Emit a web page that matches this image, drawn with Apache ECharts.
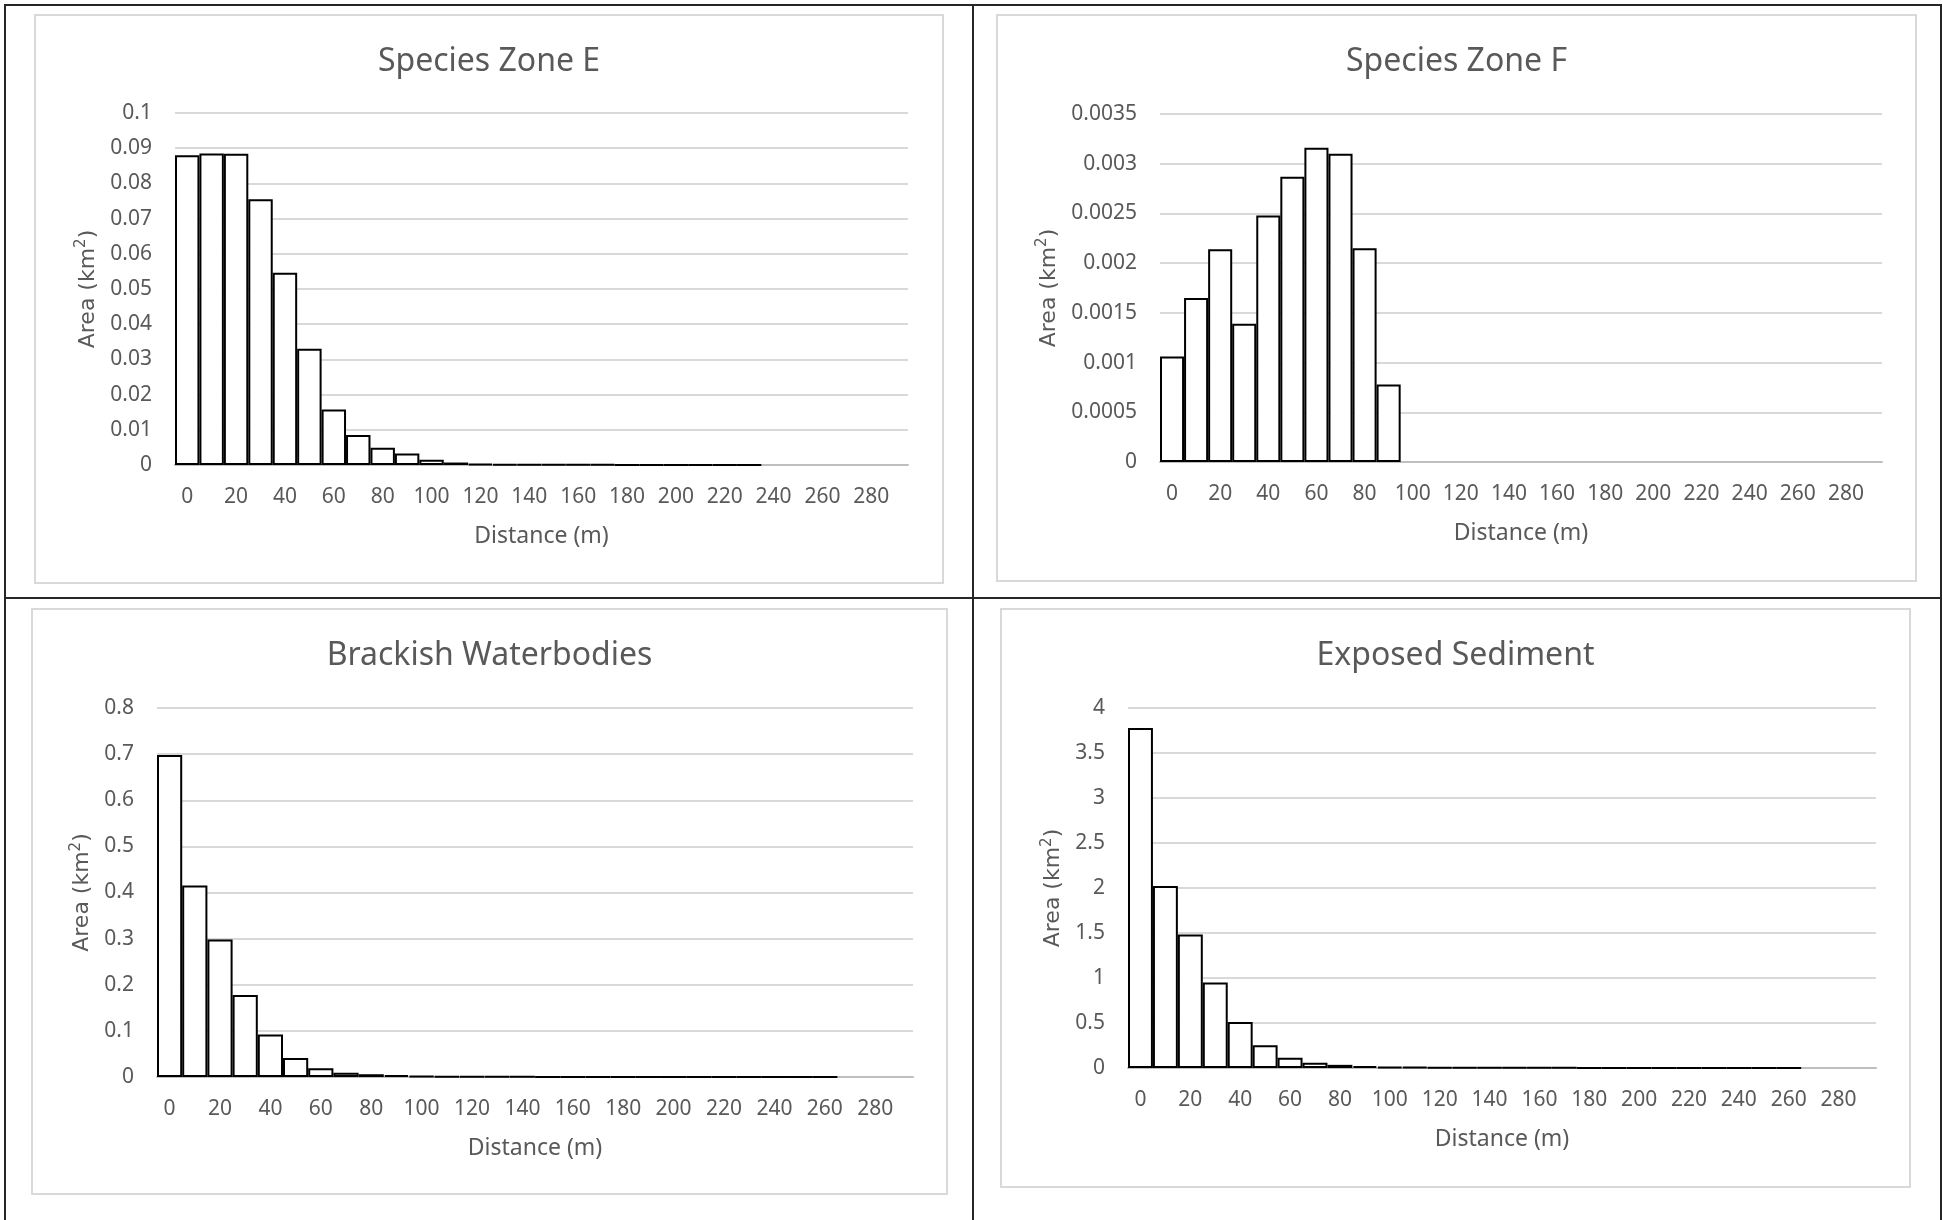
<!DOCTYPE html>
<html>
<head>
<meta charset="utf-8">
<title>Area by distance</title>
<script src="https://cdn.jsdelivr.net/npm/echarts@6/dist/echarts.min.js"></script>
<style>
  body { margin: 0; background: #fff; width: 1943px; height: 1220px; position: relative; overflow: hidden; }
  .box { position: absolute; box-sizing: border-box; border: 2px solid #d9d9d9; }
  .rule { position: absolute; background: #262626; }
</style>
</head>
<body>
<div class="rule" style="left:4px;top:4px;width:1938px;height:2px"></div>
<div class="rule" style="left:4px;top:4px;width:2px;height:1216px"></div>
<div class="rule" style="left:1940px;top:4px;width:2px;height:1216px"></div>
<div class="rule" style="left:972px;top:4px;width:2px;height:1216px"></div>
<div class="rule" style="left:4px;top:597px;width:1938px;height:2px"></div>

<div id="zone_e" class="box" style="left:34px;top:14px;width:910px;height:570px"></div>
<div id="zone_f" class="box" style="left:996px;top:14px;width:921px;height:568px"></div>
<div id="brackish" class="box" style="left:31px;top:608px;width:917px;height:587px"></div>
<div id="exposed" class="box" style="left:1000px;top:608px;width:911px;height:580px"></div>

<script>
// distance bins (m)
const distances = ["0", "10", "20", "30", "40", "50", "60", "70", "80", "90",
  "100", "110", "120", "130", "140", "150", "160", "170", "180", "190",
  "200", "210", "220", "230", "240", "250", "260", "270", "280", "290"];

// area per bin (km2)
const zoneE = [0.0880, 0.0885, 0.0884, 0.0755, 0.0546, 0.0330, 0.0158, 0.0085, 0.0049, 0.0033,
  0.0015, 0.0007, 0.0003, 0.0002, 0.0001, 0.0001, 0.0001, 0.0001, 0.00005, 0.00005,
  0.00005, 0.00005, 0.00005, 0.00005];
const zoneF = [0.00106, 0.00165, 0.00214, 0.00139, 0.00248, 0.00287, 0.00316, 0.00310, 0.00215, 0.00078];
const brackish = [0.698, 0.415, 0.298, 0.178, 0.092, 0.041, 0.019, 0.009, 0.006, 0.004,
  0.002, 0.0015, 0.001, 0.0008, 0.0006, 0.0005, 0.0004, 0.0003, 0.0003, 0.0002,
  0.0002, 0.0002, 0.0001, 0.0001, 0.0001, 0.0001, 0.0001];
const exposed = [3.777, 2.022, 1.484, 0.950, 0.512, 0.254, 0.114, 0.057, 0.035, 0.022,
  0.013, 0.010, 0.007, 0.005, 0.004, 0.004, 0.003, 0.003, 0.002, 0.002,
  0.002, 0.001, 0.001, 0.001, 0.001, 0.001, 0.001];

const textColor = "#595959";
const font = "Noto Sans";

function histOption(title, values, yMax, yInterval, grid, yNameGap) {
  return {
    animation: false,
    title: {
      text: title, left: "center", top: 22,
      textStyle: { fontFamily: font, fontSize: 32, fontWeight: "normal", color: textColor, lineHeight: 38 }
    },
    grid: Object.assign({ outerBoundsMode: "none", containLabel: false }, grid),
    xAxis: {
      type: "category",
      data: distances,
      name: "Distance (m)",
      nameLocation: "middle",
      nameGap: 57,
      nameTextStyle: { fontFamily: font, fontSize: 23, color: textColor, lineHeight: 28 },
      axisLine: { lineStyle: { color: "#bfbfbf", width: 2 } },
      axisTick: { interval: 0, length: 6, lineStyle: { color: "#bfbfbf", width: 2 } },
      axisLabel: { interval: 1, margin: 20, fontFamily: font, fontSize: 21, color: textColor, lineHeight: 25 },
      splitLine: { show: false }
    },
    yAxis: {
      type: "value",
      min: 0,
      max: yMax,
      interval: yInterval,
      name: "{t|Area (km}{s|2}{t|)}",
      nameLocation: "middle",
      nameGap: yNameGap,
      nameTextStyle: {
        rich: {
          t: { fontFamily: "DejaVu Sans", fontSize: 22, color: textColor, lineHeight: 28 },
          s: { fontFamily: "DejaVu Sans", fontSize: 15, color: textColor, lineHeight: 28, verticalAlign: "top" }
        }
      },
      axisLine: { show: false },
      axisTick: { show: false },
      axisLabel: { margin: 23, fontFamily: font, fontSize: 21, color: textColor },
      splitLine: { lineStyle: { color: "#d9d9d9", width: 2 } }
    },
    series: [{
      type: "bar",
      data: values,
      barCategoryGap: "0%",
      itemStyle: { color: "#ffffff", borderColor: "#000000", borderWidth: 2 }
    }]
  };
}

const zone_e = echarts.init(document.getElementById("zone_e"));
const zone_f = echarts.init(document.getElementById("zone_f"));
const brackish_chart = echarts.init(document.getElementById("brackish"));
const exposed_chart = echarts.init(document.getElementById("exposed"));

zone_e.setOption(histOption("Species Zone E", zoneE, 0.1, 0.01,
  { left: 139, top: 97, width: 733, height: 352 }, 73));
zone_f.setOption(histOption("Species Zone F", zoneF, 0.0035, 0.0005,
  { left: 162, top: 98, width: 722, height: 348 }, 97));
brackish_chart.setOption(histOption("Brackish Waterbodies", brackish, 0.8, 0.1,
  { left: 124, top: 98, width: 756, height: 369 }, 57));
exposed_chart.setOption(histOption("Exposed Sediment", exposed, 4, 0.5,
  { left: 126, top: 98, width: 748, height: 360 }, 59));

function resizeChart() {
  setTimeout(function () {
    zone_e.resize();
    zone_f.resize();
    brackish_chart.resize();
    exposed_chart.resize();
  }, 200);
}

window.addEventListener("resize", resizeChart);
</script>
</body>
</html>
